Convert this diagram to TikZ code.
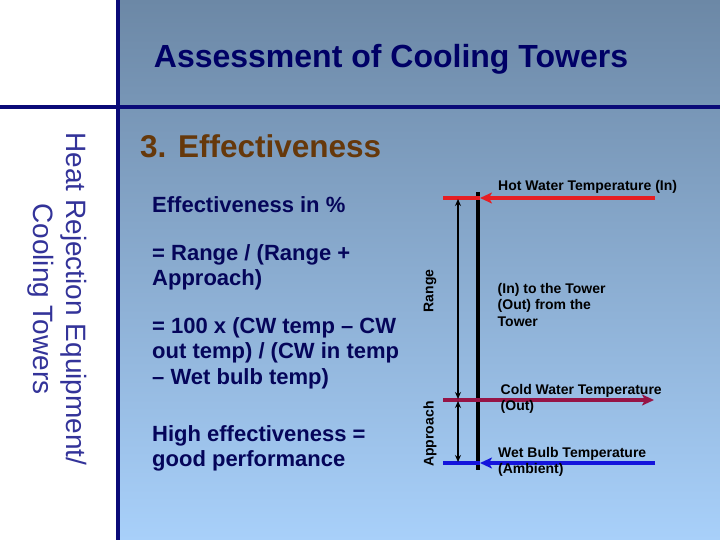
\documentclass[tikz,border=0pt]{standalone}
\usepackage{fontspec}
\setmainfont{Liberation Sans}
\usetikzlibrary{arrows.meta}

\definecolor{slidenavy}{RGB}{10,10,120}
\definecolor{titlenavy}{RGB}{0,0,102}
\definecolor{bodynavy}{RGB}{5,5,90}
\definecolor{sidenavy}{RGB}{51,51,153}
\definecolor{headbrown}{RGB}{102,56,10}
\definecolor{hotred}{RGB}{230,30,35}
\definecolor{coldred}{RGB}{150,20,70}
\definecolor{wetblue}{RGB}{20,20,220}
\definecolor{bgtop}{RGB}{108,136,166}
\definecolor{bgmid}{RGB}{142,180,222}
\definecolor{bgbot}{RGB}{168,208,250}

\newcommand{\bodyfont}{\fontsize{22}{26}\selectfont\bfseries}
\newcommand{\labelfont}{\fontsize{14}{16.5}\selectfont\bfseries}

\tikzset{
  bodytext/.style={anchor=base west, inner sep=0pt, text=bodynavy, font=\bodyfont},
  smalltext/.style={anchor=base west, inner sep=0pt, text=black, font=\labelfont},
  templine/.style={line width=4pt},
  gap/.style={line width=1.2pt, {Stealth[length=7pt,width=6pt]}-{Stealth[length=7pt,width=6pt]}}
}

\begin{document}
\begin{tikzpicture}[x=1pt, y=-1pt]
  \useasboundingbox (0,0) rectangle (720,540);

  \fill[white] (0,0) rectangle (720,540);
  \shade[top color=bgtop, middle color=bgmid, bottom color=bgbot] (120,0) rectangle (720,540);
  \draw[slidenavy, line width=4pt] (118,0) -- (118,540);
  \draw[slidenavy, line width=4pt] (0,107) -- (720,107);

  \node[text=titlenavy, font=\fontsize{32}{38}\selectfont\bfseries] (title) at (391,59) {Assessment of Cooling Towers};
  \node[rotate=-90, align=center, text=sidenavy, font=\fontsize{28}{33}\selectfont] (side) at (57.5,299) {Heat Rejection Equipment/\\Cooling Towers};
  \node[anchor=base west, inner sep=0pt, text=headbrown, font=\fontsize{31.5}{38}\selectfont\bfseries] (head) at (140,158) {3. Effectiveness};

  \foreach \y/\txt [count=\i] in {212/Effectiveness in \%, 260/{= Range / (Range +}, 285/Approach),
      333/{= 100 x (CW temp – CW}, 358/{out temp) / (CW in temp}, 384/{– Wet bulb temp)},
      441/{High effectiveness =}, 466/{good performance}} {
    \node[bodytext] (body-\i) at (152,\y) {\txt};
  }

  \coordinate (tower-t) at (478,192);
  \coordinate (tower-b) at (478,470);
  \draw[line width=3.4pt] (tower-t) -- (tower-b);

  \foreach \n/\y/\c in {hot/198/hotred, wet/463/wetblue} {
    \coordinate (\n-w) at (443,\y);
    \coordinate (\n-m) at (480,\y);
    \coordinate (\n-e) at (655,\y);
    \draw[templine, \c] (\n-w) -- (\n-m);
    \draw[templine, \c, -{Stealth[length=12pt,width=11pt,inset=3pt]}] (\n-e) -- (\n-m);
  }
  \coordinate (cold-w) at (443,400);
  \coordinate (cold-e) at (654,400);
  \draw[templine, coldred, -{Stealth[length=12pt,width=11pt,inset=3pt]}] (cold-w) -- (cold-e);

  \coordinate (range-t) at (458,199);
  \coordinate (range-b) at (458,399);
  \coordinate (app-t) at (458,401);
  \coordinate (app-b) at (458,462);
  \draw[gap] (range-t) -- (range-b);
  \draw[gap] (app-t) -- (app-b);

  \node[rotate=90, font=\labelfont] (range) at (430,291) {Range};
  \node[rotate=90, font=\labelfont] (approach) at (430,434) {Approach};

  \node[smalltext] (hot-text) at (498,191) {Hot Water Temperature (In)};
  \foreach \y/\txt [count=\i] in {293/(In) to the Tower, 309.5/(Out) from the, 326/Tower} {
    \node[smalltext] (flow-\i) at (497.5,\y) {\txt};
  }
  \node[smalltext] (cold-text) at (500.5,394) {Cold Water Temperature};
  \node[smalltext] (cold-text2) at (500.5,410.5) {(Out)};
  \node[smalltext] (wet-text) at (498,457) {Wet Bulb Temperature};
  \node[smalltext] (wet-text2) at (498,473.5) {(Ambient)};

\end{tikzpicture}
\end{document}
